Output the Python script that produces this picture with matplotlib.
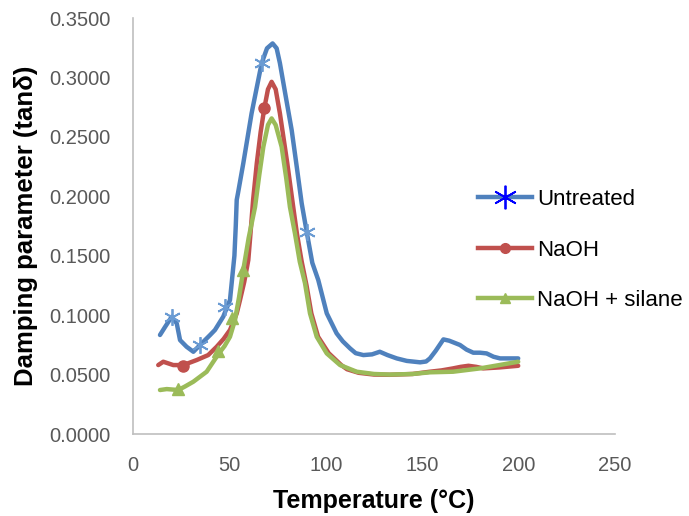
import matplotlib
matplotlib.use("Agg")
import matplotlib.pyplot as plt
from matplotlib.lines import Line2D
from matplotlib.ticker import FormatStrFormatter

plt.rcParams['font.family'] = ['Liberation Sans', 'DejaVu Sans']

# ---- data ----
t_untreated = [14, 16.6, 20.1, 22.7, 24.4, 27.8, 31.3, 34.8, 40, 42.5, 46.8, 50.3, 52.6, 53.3,
               53.8, 54.5, 57.2, 61.5, 66.7, 69.5, 72.4, 74.5, 76.2, 79, 82.3, 85, 87.5, 90.1,
               93, 96.1, 100.5, 105.6, 108.8, 112.6, 115.5, 119.5, 124, 128, 132, 136.8, 142,
               148.9, 152, 154, 157, 161, 164, 169.6, 173, 176.5, 180, 183.4, 187, 190.4, 195, 199.8]
v_untreated = [0.0833, 0.0900, 0.0987, 0.0930, 0.0790, 0.0734, 0.0692, 0.0749, 0.0833, 0.0875,
               0.0987, 0.1127, 0.1500, 0.1750, 0.1970, 0.2030, 0.2277, 0.2697, 0.3118, 0.3245,
               0.3286, 0.3245, 0.3120, 0.2860, 0.2557, 0.2240, 0.1940, 0.1700, 0.1440, 0.1295,
               0.1015, 0.0847, 0.0780, 0.0720, 0.0680, 0.0664, 0.0670, 0.0692, 0.0664, 0.0636,
               0.0615, 0.0603, 0.0610, 0.0636, 0.0700, 0.0796, 0.0785, 0.0749, 0.0710, 0.0684,
               0.0684, 0.0678, 0.0650, 0.0636, 0.0636, 0.0636]

t_naoh = [13.1, 15.7, 20.9, 26.1, 33, 39, 43.4, 47, 50.3, 53.8, 55.5, 57.7, 59.8, 61, 62.3,
          64.2, 66.2, 68.1, 70, 71.9, 74, 76.2, 80, 83.1, 85, 87.5, 90, 92.5, 96, 101.5, 108,
          111, 117, 125, 133, 145, 154, 160, 166, 170, 174, 178, 181.7, 190, 199.8]
v_naoh = [0.0580, 0.0608, 0.0580, 0.0580, 0.0622, 0.0664, 0.0734, 0.0800, 0.0875, 0.1015,
          0.1127, 0.1280, 0.1463, 0.1700, 0.1970, 0.2277, 0.2540, 0.2740, 0.2900, 0.2963,
          0.2900, 0.2697, 0.2280, 0.1910, 0.1688, 0.1450, 0.1250, 0.1015, 0.0818, 0.0680,
          0.0580, 0.0545, 0.0515, 0.0500, 0.0498, 0.0505, 0.0524, 0.0535, 0.0552, 0.0565,
          0.0574, 0.0565, 0.0552, 0.0560, 0.0574]

t_silane = [14, 17.5, 23.5, 27, 31.3, 38.2, 44.2, 47.5, 50.3, 52.9, 55, 57.2, 60, 63.3, 65.5,
            67.6, 70, 71.9, 74, 77.1, 79.5, 81.4, 84, 86.5, 89.2, 91.8, 95.3, 100.5, 107.4, 116,
            125, 133.3, 145, 154, 166, 180, 190, 199.8]
v_silane = [0.0370, 0.0378, 0.0370, 0.0400, 0.0440, 0.0524, 0.0670, 0.0740, 0.0818, 0.0959,
            0.1150, 0.1380, 0.1650, 0.1910, 0.2180, 0.2416, 0.2600, 0.2655, 0.2600, 0.2416,
            0.2150, 0.1910, 0.1688, 0.1450, 0.1270, 0.1015, 0.0818, 0.0678, 0.0580, 0.0524,
            0.0505, 0.0500, 0.0505, 0.0519, 0.0524, 0.0552, 0.0580, 0.0608]

# marker positions
mt_untreated = [20.1, 34.8, 47.7, 66.7, 90.1]
mv_untreated = [0.0987, 0.0749, 0.1070, 0.3118, 0.1700]
mt_naoh = [26.1, 68.1]
mv_naoh = [0.0575, 0.2740]
mt_silane = [23.5, 44.2, 51.2, 57.2]
mv_silane = [0.0375, 0.0700, 0.0973, 0.1380]

labels = ["Untreated", "NaOH", "NaOH + silane"]
x_ticks = [0, 50, 100, 150, 200, 250]
y_ticks = [0.0, 0.05, 0.10, 0.15, 0.20, 0.25, 0.30, 0.35]

c_blue = "#4F81BD"
c_red = "#C0504D"
c_green = "#9BBB59"

fig = plt.figure(figsize=(6.89, 5.16), dpi=100)
ax = fig.add_axes([133/689, 1-434/516, (615-133)/689, (434-18)/516])

lw = 3.2
ax.plot(t_untreated, v_untreated, color=c_blue, lw=lw, solid_capstyle='round', solid_joinstyle='round')
ax.plot(t_naoh, v_naoh, color=c_red, lw=lw, solid_capstyle='round', solid_joinstyle='round')
ax.plot(t_silane, v_silane, color=c_green, lw=lw, solid_capstyle='round', solid_joinstyle='round')

ax.plot(mt_untreated, mv_untreated, ls='none', marker=(6, 2, 0), ms=12, mec="#6A9BD3", mew=1.3)
ax.plot(mt_naoh, mv_naoh, ls='none', marker='o', ms=8, mfc=c_red, mec=c_red)
ax.plot(mt_silane, mv_silane, ls='none', marker='^', ms=8, mfc=c_green, mec=c_green)

ax.set_xlim(0, 250)
ax.set_ylim(0, 0.35)
ax.set_xticks(x_ticks)
ax.set_yticks(y_ticks)
ax.yaxis.set_major_formatter(FormatStrFormatter('%.4f'))
ax.tick_params(length=0, labelsize=14.5, labelcolor="#595959", pad=16)
for s in ['top', 'right']:
    ax.spines[s].set_visible(False)
for s in ['left', 'bottom']:
    ax.spines[s].set_color("#BFBFBF")
    ax.spines[s].set_linewidth(1.2)

ax.set_xlabel("Temperature (°C)", fontsize=18, fontweight='bold', labelpad=10)
ax.set_ylabel("Damping parameter (tanδ)", fontsize=18.5, fontweight='bold', labelpad=8)

handles = [
    Line2D([], [], color=c_blue, lw=lw, marker=(6, 2, 0), ms=17, mec="#0000FF", mew=1.3),
    Line2D([], [], color=c_red, lw=lw, marker='o', ms=7, mfc=c_red, mec=c_red),
    Line2D([], [], color=c_green, lw=lw, marker='^', ms=7, mfc=c_green, mec=c_green),
]
fig.legend(handles, labels, loc='center left', bbox_to_anchor=(478/689, 1-250/516),
           frameon=False, fontsize=16, handlelength=2.45, handletextpad=0.2,
           labelspacing=1.32, borderpad=0, borderaxespad=0)

fig.savefig("out.png", dpi=100)
